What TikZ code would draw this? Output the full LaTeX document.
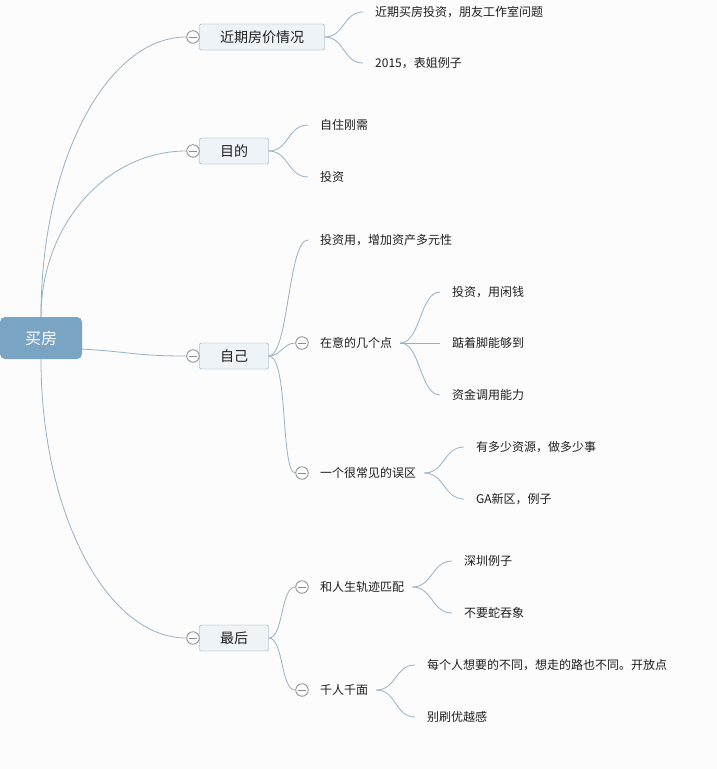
\documentclass[tikz,border=0pt]{standalone}
\usepackage{fontspec}
\setmainfont{Noto Sans CJK SC}

\definecolor{rootblue}{RGB}{122,164,196}
\definecolor{boxfill}{RGB}{238,243,248}
\definecolor{boxline}{RGB}{130,157,182}
\definecolor{linkblue}{RGB}{150,177,199}
\definecolor{bggray}{RGB}{252,252,252}
\definecolor{foldgray}{RGB}{140,140,140}
\definecolor{txt}{RGB}{30,30,30}

\tikzset{
  rootnode/.style={fill=rootblue, text=white, rounded corners=5pt,
                   minimum width=82pt, minimum height=42pt, font=\fontsize{16}{18}\selectfont},
  topic/.style={draw=boxline, fill=boxfill, rounded corners=2pt, text=txt,
                inner xsep=20.5pt, minimum height=26pt, font=\fontsize{14}{16}\selectfont},
  fold/.style={circle, draw=foldgray, line width=0.8pt, fill=white, minimum size=12.5pt, inner sep=0pt,
               path picture={\draw[foldgray, line width=0.8pt] ([xshift=-4pt]path picture bounding box.center)
                             -- ([xshift=4pt]path picture bounding box.center);}},
  subtopic/.style={anchor=west, inner xsep=8pt, text=txt, font=\fontsize{12}{14}\selectfont},
  leaf/.style={anchor=west, inner xsep=12pt, text=txt, font=\fontsize{12}{14}\selectfont},
  link/.style={draw=linkblue, line width=0.8pt}
}

\begin{document}
\begin{tikzpicture}[x=1pt,y=-1pt]

\fill[bggray] (0,0) rectangle (717,769);
\useasboundingbox (0,0) rectangle (717,769);

% root and main topics
\node[rootnode] (root) at (41,338) {买房};

\node[topic] (jq) at (262,37) {近期房价情况};
\node[topic] (md) at (234,151) {目的};
\node[topic] (zj) at (234,356) {自己};
\node[topic] (zh) at (234,638) {最后};

\node[fold] (fjq) at (193,37) {};
\node[fold] (fmd) at (193,151) {};
\node[fold] (fzj) at (193,356) {};
\node[fold] (fzh) at (193,638) {};

\draw[link] (root.north) .. controls +(0,-155) and +(-80,0) .. (fjq.west);
\draw[link] (root.north) .. controls +(0,-92) and +(-80,0) .. (fmd.west);
\draw[link] (root.-15) .. controls +(50,3) and +(-50,0) .. (fzj.west);
\draw[link] (root.south) .. controls +(0,153) and +(-80,0) .. (fzh.west);

% 近期房价情况
\node[leaf] (jq1) at (363,12) {近期买房投资，朋友工作室问题};
\node[leaf] (jq2) at (363,63) {2015，表姐例子};
\draw[link] (jq.east) .. controls +(20,0) and +(-20,0) .. (jq1.west);
\draw[link] (jq.east) .. controls +(20,0) and +(-20,0) .. (jq2.west);

% 目的
\node[leaf] (md1) at (308,125) {自住刚需};
\node[leaf] (md2) at (308,177) {投资};
\draw[link] (md.east) .. controls +(20,0) and +(-20,0) .. (md1.west);
\draw[link] (md.east) .. controls +(20,0) and +(-20,0) .. (md2.west);

% 自己
\node[leaf] (zj1) at (308,240) {投资用，增加资产多元性};
\node[fold] (fzy) at (302,343) {};
\node[subtopic] (zy) at (312,343) {在意的几个点};
\node[fold] (fwq) at (302,473) {};
\node[subtopic] (wq) at (312,473) {一个很常见的误区};
\draw[link] (zj.east) .. controls +(20,0) and +(-20,0) .. (zj1.west);
\draw[link] (zj.east) .. controls +(12,0) and +(-12,0) .. (fzy.west);
\draw[link] (zj.east) .. controls +(20,0) and +(-15,0) .. (fwq.west);

\node[leaf] (zy1) at (440,292) {投资，用闲钱};
\node[leaf] (zy2) at (440,343) {踮着脚能够到};
\node[leaf] (zy3) at (440,395) {资金调用能力};
\draw[link] (zy.east) .. controls +(20,0) and +(-20,0) .. (zy1.west);
\draw[link] (zy.east) -- (zy2.west);
\draw[link] (zy.east) .. controls +(20,0) and +(-20,0) .. (zy3.west);

\node[leaf] (wq1) at (464,447) {有多少资源，做多少事};
\node[leaf] (wq2) at (464,499) {GA新区，例子};
\draw[link] (wq.east) .. controls +(20,0) and +(-20,0) .. (wq1.west);
\draw[link] (wq.east) .. controls +(20,0) and +(-20,0) .. (wq2.west);

% 最后
\node[fold] (fpp) at (302,587) {};
\node[subtopic] (pp) at (312,587) {和人生轨迹匹配};
\node[fold] (fqr) at (302,690) {};
\node[subtopic] (qr) at (312,690) {千人千面};
\draw[link] (zh.east) .. controls +(15,0) and +(-15,0) .. (fpp.west);
\draw[link] (zh.east) .. controls +(15,0) and +(-15,0) .. (fqr.west);

\node[leaf] (pp1) at (452,561) {深圳例子};
\node[leaf] (pp2) at (452,613) {不要蛇吞象};
\draw[link] (pp.east) .. controls +(20,0) and +(-20,0) .. (pp1.west);
\draw[link] (pp.east) .. controls +(20,0) and +(-20,0) .. (pp2.west);

\node[leaf] (qr1) at (415,665) {每个人想要的不同，想走的路也不同。开放点};
\node[leaf] (qr2) at (415,717) {别刷优越感};
\draw[link] (qr.east) .. controls +(20,0) and +(-20,0) .. (qr1.west);
\draw[link] (qr.east) .. controls +(20,0) and +(-20,0) .. (qr2.west);

\end{tikzpicture}
\end{document}
